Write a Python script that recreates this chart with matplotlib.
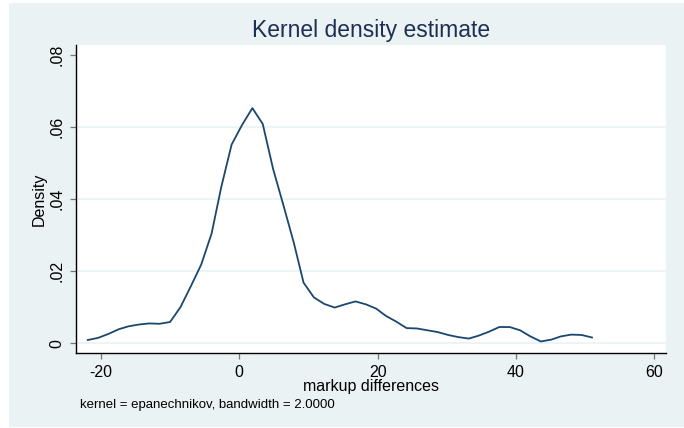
import matplotlib
matplotlib.use("Agg")
import matplotlib.pyplot as plt
from matplotlib.patches import Rectangle

# Kernel density curve (Stata kdensity, 50 grid points)
markup_diff = [-21.9, -20.4, -18.9, -17.4, -16.0, -14.5, -13.0, -11.5, -10.0, -8.5,
               -7.0, -5.5, -4.0, -2.6, -1.1, 0.4, 1.9, 3.4, 4.9, 6.4,
               7.9, 9.3, 10.8, 12.3, 13.8, 15.3, 16.8, 18.3, 19.8, 21.2,
               22.7, 24.2, 25.7, 27.2, 28.7, 30.2, 31.7, 33.2, 34.6, 36.1,
               37.6, 39.1, 40.6, 42.1, 43.6, 45.1, 46.5, 48.0, 49.5, 51.0]
density = [0.0009, 0.0015, 0.0026, 0.0039, 0.0047, 0.0052, 0.0055, 0.0054, 0.0059, 0.0100,
           0.0158, 0.0218, 0.0304, 0.0433, 0.0551, 0.0605, 0.0652, 0.0608, 0.0483, 0.0382,
           0.0278, 0.0168, 0.0127, 0.0109, 0.0099, 0.0108, 0.0116, 0.0108, 0.0096, 0.0076,
           0.0060, 0.0042, 0.0041, 0.0036, 0.0031, 0.0023, 0.0017, 0.0013, 0.0021, 0.0032,
           0.0045, 0.0045, 0.0036, 0.0019, 0.0005, 0.0010, 0.0019, 0.0024, 0.0023, 0.0016]

x_ticks = [-20, 0, 20, 40, 60]
y_ticks = [0, 0.02, 0.04, 0.06, 0.08]
y_tick_labels = ["0", ".02", ".04", ".06", ".08"]

bg = "#eaf2f3"
navy = "#1a476f"
W, H = 684, 428

plt.rcParams["font.family"] = ["Liberation Sans", "DejaVu Sans"]

fig = plt.figure(figsize=(W / 100, H / 100), dpi=100, facecolor="white")

# Stata-style light graph region, kept behind the axes
fig.patches.append(Rectangle((9 / W, 1 - 427 / H), (W - 9) / W, (427 - 3) / H,
                             transform=fig.transFigure, facecolor=bg,
                             edgecolor="none", zorder=-10))

left, right, top, bottom = 76, 666, 45, 353
ax = fig.add_axes([left / W, 1 - bottom / H, (right - left) / W, (bottom - top) / H])
ax.set_facecolor("white")

for y in y_ticks[:-1]:
    ax.axhline(y, color=bg, linewidth=1.2, zorder=1)

ax.plot(markup_diff, density, color=navy, linewidth=1.3, zorder=3)

ax.set_xlim(-23.6, 61.7)
ax.set_ylim(-0.0027, 0.0827)
ax.set_xticks(x_ticks)
ax.set_xticklabels([str(t) for t in x_ticks])
ax.set_yticks(y_ticks)
ax.set_yticklabels(y_tick_labels, rotation=90, va="center")

for side in ["top", "right"]:
    ax.spines[side].set_visible(False)
for side in ["left", "bottom"]:
    ax.spines[side].set_color("black")
    ax.spines[side].set_linewidth(1.0)

ax.tick_params(axis="both", direction="out", length=4.5, width=0.9,
               color="#777777", labelsize=11.5, pad=4)

ax.set_xlabel("markup differences", fontsize=11.5, va="baseline")
ax.xaxis.set_label_coords(0.5, (bottom - 391) / (bottom - top))
ax.set_ylabel("Density", fontsize=11.5, va="baseline")
ax.yaxis.set_label_coords((44 - left) / (right - left), 0.5)

ax.set_title("Kernel density estimate", fontsize=16.5, color="#1e2f55",
             y=(bottom - 36.5) / (bottom - top), pad=0)

fig.text(80 / W, 1 - 408.3 / H, "kernel = epanechnikov, bandwidth = 2.0000",
         fontsize=9.5, va="baseline", ha="left")

fig.savefig("out.png", dpi=100, facecolor=fig.get_facecolor())
